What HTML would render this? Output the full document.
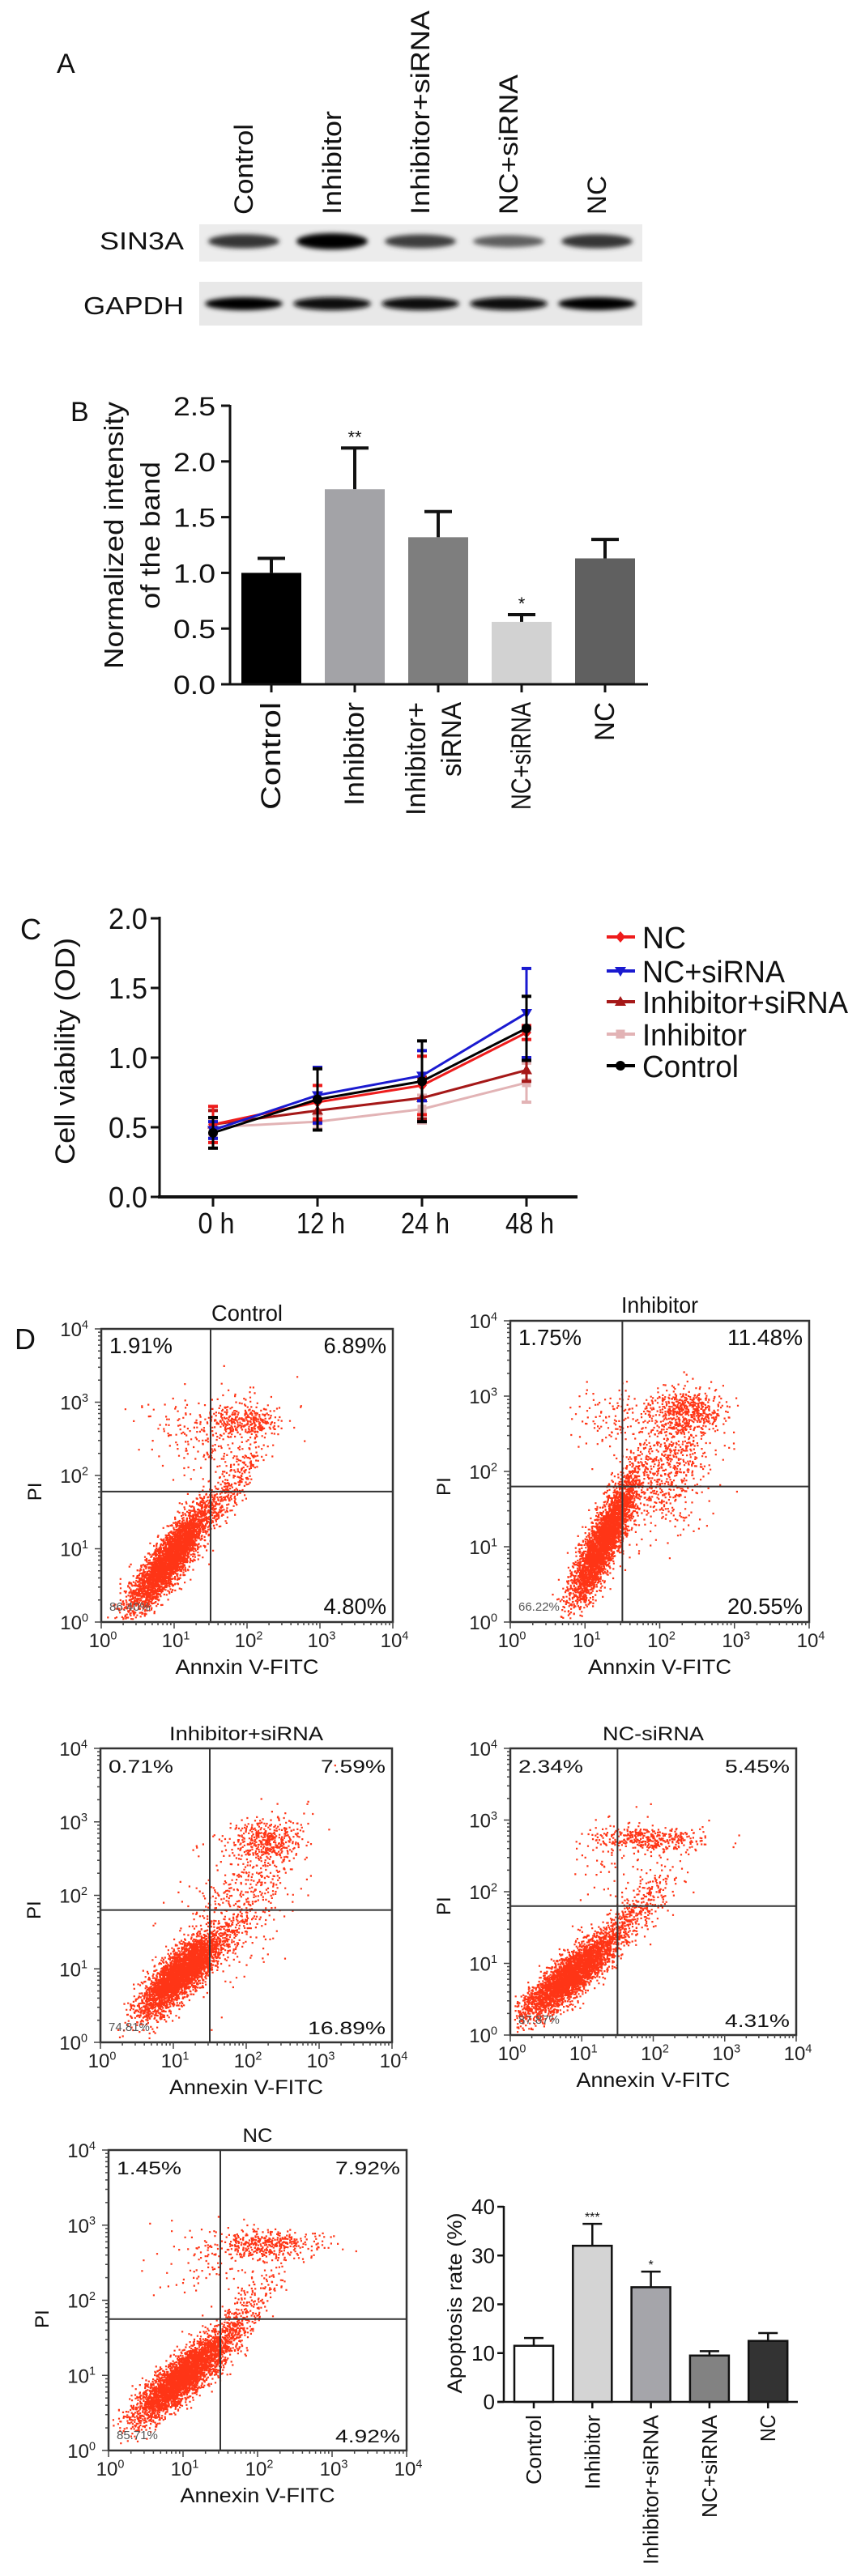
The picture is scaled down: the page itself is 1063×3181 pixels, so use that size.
<!DOCTYPE html>
<html>
<head>
<meta charset="utf-8">
<style>
html,body{margin:0;padding:0;background:#fff;}
svg{display:block;font-family:"Liberation Sans",Arial,sans-serif;}
</style>
</head>
<body>
<svg id="fig" xmlns="http://www.w3.org/2000/svg" width="1063" height="3181" viewBox="0 0 1063 3181">
<defs>
<filter id="blur" x="-20%" y="-100%" width="140%" height="300%"><feGaussianBlur stdDeviation="3"/></filter>
</defs>
<rect x="0" y="0" width="1063" height="3181" fill="#fff"/>
<g id="panelA"></g>
<g id="panelB"></g>
<g id="panelC"></g>
<g id="panelD"></g>
</svg>
<script>
// ---------- data ----------
const laneLabels = ['Control','Inhibitor','Inhibitor+siRNA','NC+siRNA','NC'];
const sin3aIntensity = [0.72, 1.0, 0.68, 0.5, 0.72];
const gapdhIntensity = [0.95, 0.9, 0.88, 0.9, 0.95];

const bCats = ['Control','Inhibitor','Inhibitor+|siRNA','NC+siRNA','NC'];
const bVals = [1.0, 1.75, 1.32, 0.56, 1.13];
const bErr = [0.13, 0.37, 0.23, 0.065, 0.17];
const bTicks = [0, 0.5, 1.0, 1.5, 2.0, 2.5];
const bStars = ['', '**', '', '*', ''];

const cTimes = ['0 h','12 h','24 h','48 h'];
const cTicks = [0, 0.5, 1.0, 1.5, 2.0];
const cNames = ['NC','NC+siRNA','Inhibitor+siRNA','Inhibitor','Control'];
const cNC = [0.52, 0.68, 0.80, 1.18];
const cNCErr = [0.13, 0.12, 0.21, 0.05];
const cNCsi = [0.48, 0.73, 0.87, 1.32];
const cNCsiErr = [0.06, 0.2, 0.18, 0.32];
const cInhSi = [0.52, 0.62, 0.71, 0.91];
const cInhSiErr = [0.1, 0.08, 0.15, 0.08];
const cInh = [0.50, 0.54, 0.63, 0.82];
const cInhErr = [0.05, 0.05, 0.1, 0.14];
const cCtrl = [0.46, 0.70, 0.83, 1.21];
const cCtrlErr = [0.11, 0.22, 0.29, 0.23];

const dCats = ['Control','Inhibitor','Inhibitor+siRNA','NC+siRNA','NC'];
const dVals = [11.5, 32, 23.5, 9.5, 12.5];
const dErr = [1.6, 4.5, 3.2, 0.9, 1.6];
const dTicks = [0, 10, 20, 30, 40];
const dStars = ['', '***', '*', '', ''];

const flowTitles = ['Control','Inhibitor','Inhibitor+siRNA','NC-siRNA','NC'];
const flowUL = ['1.91%','1.75%','0.71%','2.34%','1.45%'];
const flowUR = ['6.89%','11.48%','7.59%','5.45%','7.92%'];
const flowLL = ['86.40%','66.22%','74.81%','87.87%','85.71%'];
const flowLR = ['4.80%','20.55%','16.89%','4.31%','4.92%'];
const flowXLabel = ['Annxin V-FITC','Annxin V-FITC','Annexin V-FITC','Annexin V-FITC','Annexin V-FITC'];
const gateX = [1.5, 1.5, 1.5, 1.5, 1.5];
const gateY = [1.78, 1.8, 1.8, 1.8, 1.75];
const cl0 = [[0.95,0.9,0.3,0.38,0.88,3600],[1.95,2.75,0.3,0.12,0,320],[1.5,2.6,0.45,0.3,0,220],[1.8,1.9,0.2,0.3,0.8,220]];
const cl1 = [[1.25,1.1,0.22,0.42,0.85,3600],[2.35,2.8,0.25,0.15,0,500],[2.1,2.1,0.3,0.45,0.3,700],[1.4,2.7,0.3,0.25,0,120]];
const cl2 = [[1.1,0.95,0.28,0.28,0.8,3600],[2.25,2.75,0.25,0.15,0,420],[1.9,1.9,0.4,0.5,0.5,500]];
const cl3 = [[0.85,0.85,0.33,0.3,0.85,3600],[1.9,2.75,0.4,0.08,0,380],[1.75,1.7,0.3,0.3,0.8,320],[1.5,2.5,0.4,0.3,0,80]];
const cl4 = [[1.0,1.0,0.33,0.3,0.85,3600],[2.1,2.75,0.35,0.1,0,420],[1.8,1.8,0.25,0.3,0.8,260],[1.4,2.5,0.4,0.3,0,100]];
const flowClusters = [cl0, cl1, cl2, cl3, cl4];

// label display lengths (style, px)
const laneLen = [112, 128, 252, 173, 48];
const bLabLen = [133, 128, 0, 133, 48];
const legLen = [54, 176, 254, 129, 119];
const dLabLen = [86, 92, 185, 127, 33];
const titleLen = [88, 95, 190, 125, 37];
const xTitleLen = [177, 177, 190, 190, 191];

// ---------- helpers ----------
const NS = 'http://www.w3.org/2000/svg';
function mk(parent, tag, attrs, name, inter) {
  const el = document.createElementNS(NS, tag);
  for (const k in attrs) el.setAttribute(k, attrs[k]);
  
  
  parent.appendChild(el);
  return el;
}
function txt(parent, x, y, s, size, name, opt) {
  opt = opt || {};
  const a = {x: x, y: y, 'font-size': size, fill: opt.fill || '#111'};
  if (opt.anchor) a['text-anchor'] = opt.anchor;
  if (opt.len) { a.textLength = opt.len; a.lengthAdjust = 'spacingAndGlyphs'; }
  if (opt.rot) a.transform = 'rotate(-90 ' + x + ' ' + y + ')';
  if (opt.weight) a['font-weight'] = opt.weight;
  const t = mk(parent, 'text', a, name, false);
  t.textContent = s;
  return t;
}
function line(parent, x1, y1, x2, y2, w, name, col) {
  return mk(parent, 'line', {x1: x1, y1: y1, x2: x2, y2: y2, stroke: col || '#111', 'stroke-width': w}, name, false);
}
function pow10(parent, x, y, e, size, name, anchor) {
  const t = mk(parent, 'text', {x: x, y: y, 'font-size': size, fill: '#222', 'text-anchor': anchor || 'middle'}, name, false);
  t.textContent = '10';
  const s = document.createElementNS(NS, 'tspan');
  s.setAttribute('dy', -size * 0.4);
  s.setAttribute('font-size', size * 0.6);
  s.textContent = String(e);
  t.appendChild(s);
  return t;
}

// ---------- Panel A ----------
(function () {
  const g = document.getElementById('panelA');
  txt(g, 70, 90, 'A', 34, 'panel-label-a');
  const laneX = (i) => 301 + i * 109;
  laneLabels.forEach((l, i) => {
    txt(g, laneX(i) + 11, 265, l, 32, 'lane-label', {rot: true, len: laneLen[i]});
  });
  txt(g, 227, 308, 'SIN3A', 31, 'sin3a-label', {anchor: 'end', len: 104});
  txt(g, 227, 388, 'GAPDH', 31, 'gapdh-label', {anchor: 'end', len: 124});
  mk(g, 'rect', {x: 246, y: 277, width: 547, height: 46, fill: '#ececec'}, 'sin3a-blot-strip', false);
  mk(g, 'rect', {x: 246, y: 348, width: 547, height: 54, fill: '#e8e8e8'}, 'gapdh-blot-strip', false);
  sin3aIntensity.forEach((v, i) => {
    const c = Math.round(190 - v * 190);
    mk(g, 'ellipse', {cx: laneX(i), cy: 298, rx: 44, ry: 5 + v * 5, fill: 'rgb(' + c + ',' + c + ',' + c + ')', filter: 'url(#blur)'}, 'sin3a-band', false);
  });
  gapdhIntensity.forEach((v, i) => {
    const c = Math.max(0, Math.round(190 - v * 200));
    mk(g, 'ellipse', {cx: laneX(i), cy: 375, rx: 48, ry: 8, fill: 'rgb(' + c + ',' + c + ',' + c + ')', filter: 'url(#blur)'}, 'gapdh-band', false);
  });
})();

// ---------- Panel B ----------
(function () {
  const g = document.getElementById('panelB');
  const yB = (v) => 845 - v * 137.6;
  const xB = (i) => 335 + i * 103;
  const cols = ['#000000', '#a3a3a7', '#7e7e7e', '#d2d2d2', '#606060'];
  txt(g, 87, 520, 'B', 34, 'panel-label-b');
  txt(g, 152, 661, 'Normalized intensity', 33, 'y-axis-title', {rot: true, anchor: 'middle', len: 330});
  txt(g, 197, 661, 'of the band', 33, 'y-axis-title-line2', {rot: true, anchor: 'middle', len: 182});
  bTicks.forEach((t) => {
    line(g, 273, yB(t), 284, yB(t), 3, 'y-tick');
    txt(g, 266, yB(t) + 12, t.toFixed(1), 32, 'y-tick-label', {anchor: 'end', len: 52});
  });
  bVals.forEach((v, i) => {
    const x = xB(i);
    line(g, x, yB(v), x, yB(v + bErr[i]), 4, 'error-bar');
    line(g, x - 17, yB(v + bErr[i]), x + 17, yB(v + bErr[i]), 4, 'error-cap');
    mk(g, 'rect', {x: x - 37, y: yB(v), width: 74, height: yB(0) - yB(v), fill: cols[i]}, 'bar-' + i, false);
    if (bStars[i]) txt(g, x, yB(v + bErr[i]) - 6, bStars[i], 22, 'significance-star', {anchor: 'middle'});
    line(g, x, 845, x, 855, 3, 'x-tick');
    const parts = bCats[i].split('|');
    if (parts.length === 1) {
      txt(g, x + 11, 867, parts[0], 34, 'x-tick-label', {rot: true, anchor: 'end', len: bLabLen[i]});
    } else {
      txt(g, x - 16, 867, parts[0], 34, 'x-tick-label', {rot: true, anchor: 'end', len: 140});
      txt(g, x + 28, 867, parts[1], 34, 'x-tick-label', {rot: true, anchor: 'end', len: 92});
    }
  });
  line(g, 284, 500, 284, 846.5, 3, 'y-axis');
  line(g, 274, 845, 800, 845, 3, 'x-axis');
})();

// ---------- Panel C ----------
(function () {
  const g = document.getElementById('panelC');
  const yC = (v) => 1478 - v * 172;
  const xC = (i) => 263 + i * 129;
  txt(g, 25, 1160, 'C', 36, 'panel-label-c');
  txt(g, 92, 1298, 'Cell viability (OD)', 34, 'y-axis-title', {rot: true, anchor: 'middle', len: 280});
  cTicks.forEach((t) => {
    line(g, 186, yC(t), 197, yC(t), 3, 'y-tick');
    txt(g, 182, yC(t) + 13, t.toFixed(1), 36, 'y-tick-label', {anchor: 'end', len: 48});
  });
  cTimes.forEach((t, i) => {
    line(g, xC(i), 1478, xC(i), 1490, 3, 'x-tick');
    txt(g, xC(i) + 4, 1523, t, 36, 'x-tick-label', {anchor: 'middle', len: t.length * 15});
  });
  line(g, 197, 1132, 197, 1479.5, 3, 'y-axis');
  line(g, 195, 1478, 713, 1478, 4, 'x-axis');
  const series = [
    [cInh, cInhErr, '#e2b3b5', 'square'],
    [cInhSi, cInhSiErr, '#a51818', 'up'],
    [cNC, cNCErr, '#ee1c1c', 'diamond'],
    [cNCsi, cNCsiErr, '#1a1ad0', 'down'],
    [cCtrl, cCtrlErr, '#000000', 'circle']
  ];
  function marker(parent, x, y, type, col, name) {
    if (type === 'circle') return mk(parent, 'circle', {cx: x, cy: y, r: 6, fill: col}, name, false);
    if (type === 'square') return mk(parent, 'rect', {x: x - 5.5, y: y - 5.5, width: 11, height: 11, fill: col}, name, false);
    let pts;
    if (type === 'up') pts = [x, y - 7, x + 7, y + 5, x - 7, y + 5];
    else if (type === 'down') pts = [x, y + 7, x + 7, y - 5, x - 7, y - 5];
    else pts = [x, y - 7, x + 6, y, x, y + 7, x - 6, y];
    return mk(parent, 'polygon', {points: pts.join(' '), fill: col}, name, false);
  }
  series.forEach((s) => {
    const [vals, errs, col, type] = s;
    const sg = mk(g, 'g', {}, 'series-' + type, false);
    vals.forEach((v, i) => {
      line(sg, xC(i), yC(v - errs[i]), xC(i), yC(v + errs[i]), 3, 'error-bar', col);
      line(sg, xC(i) - 6, yC(v + errs[i]), xC(i) + 6, yC(v + errs[i]), 4, 'error-cap', col);
      line(sg, xC(i) - 6, yC(v - errs[i]), xC(i) + 6, yC(v - errs[i]), 4, 'error-cap', col);
    });
    const d = vals.map((v, i) => (i ? 'L' : 'M') + xC(i) + ' ' + yC(v)).join(' ');
    mk(sg, 'path', {d: d, fill: 'none', stroke: col, 'stroke-width': 3}, 'series-line', false);
    vals.forEach((v, i) => marker(sg, xC(i), yC(v), type, col, 'data-point'));
  });
  const legCols = ['#ee1c1c', '#1a1ad0', '#a51818', '#e2b3b5', '#000000'];
  const legTypes = ['diamond', 'down', 'up', 'square', 'circle'];
  const legY = [1157, 1199, 1237, 1277, 1316];
  cNames.forEach((n, i) => {
    const lg = mk(g, 'g', {}, 'legend-entry', false);
    line(lg, 749, legY[i], 784, legY[i], 4, 'legend-line', legCols[i]);
    marker(lg, 766, legY[i], legTypes[i], legCols[i], 'legend-marker');
    txt(lg, 793, legY[i] + 14, n, 38, 'legend-label', {len: legLen[i]});
  });
})();

// ---------- Panel D ----------
function rng(seed) {
  return function () {
    seed |= 0; seed = seed + 0x6D2B79F5 | 0;
    let t = Math.imul(seed ^ seed >>> 15, 1 | seed);
    t = t + Math.imul(t ^ t >>> 7, 61 | t) ^ t;
    return ((t ^ t >>> 14) >>> 0) / 4294967296;
  };
}
(function () {
  const g = document.getElementById('panelD');
  txt(g, 18, 1666, 'D', 36, 'panel-label-d');
  const frames = [
    [125, 1641, 485, 2003, true],
    [630, 1631, 999, 2003, true],
    [124, 2159, 484, 2522, false],
    [630, 2159, 983, 2513, false],
    [134, 2655, 502, 3026, false]
  ];
  frames.forEach((f, k) => {
    const [x0, y0, x1, y1, cond] = f;
    const pg = mk(g, 'g', {}, 'flow-plot-' + flowTitles[k].toLowerCase().replace(/[^a-z]+/g, '-'), false);
    const sx = (d) => x0 + (x1 - x0) * d / 4;
    const sy = (d) => y1 - (y1 - y0) * d / 4;
    const r = rng(k * 977 + 13);
    const gauss = () => { let u = 0, v = 0; while (!u) u = r(); v = r(); return Math.sqrt(-2 * Math.log(u)) * Math.cos(2 * Math.PI * v); };
    let d = '';
    flowClusters[k].forEach((c) => {
      const [cx, cy, ssx, ssy, rho, n] = c;
      for (let i = 0; i < n; i++) {
        const a = gauss(), b = gauss();
        const px = cx + ssx * a;
        const py = cy + ssy * (rho * a + Math.sqrt(1 - rho * rho) * b);
        if (px < 0.05 || px > 3.95 || py < 0.05 || py > 3.95) continue;
        d += 'M' + sx(px).toFixed(1) + ' ' + sy(py).toFixed(1) + 'h2.2v2.2h-2.2z';
      }
    });
    mk(pg, 'path', {d: d, fill: '#ff2a0a', 'fill-opacity': 0.95}, 'scatter-points', false);
    mk(pg, 'rect', {x: x0, y: y0, width: x1 - x0, height: y1 - y0, fill: 'none', stroke: '#333', 'stroke-width': 2.5}, 'plot-frame', false);
    line(pg, sx(gateX[k]), y0, sx(gateX[k]), y1, 2, 'quadrant-vertical-gate', '#333');
    line(pg, x0, sy(gateY[k]), x1, sy(gateY[k]), 2, 'quadrant-horizontal-gate', '#333');
    for (let dec = 0; dec < 4; dec++) {
      for (let m = 1; m <= 9; m++) {
        const lv = dec + Math.log10(m);
        const len = m === 1 ? 8 : 4;
        line(pg, x0 - len, sy(lv), x0, sy(lv), 1.5, 'y-minor-tick', '#444');
        line(pg, sx(lv), y1, sx(lv), y1 + len, 1.5, 'x-minor-tick', '#444');
      }
    }
    line(pg, x0 - 8, y0, x0, y0, 1.5, 'y-tick', '#444');
    line(pg, x1, y1, x1, y1 + 8, 1.5, 'x-tick', '#444');
    const fs = 24;
    for (let e = 0; e <= 4; e++) {
      pow10(pg, x0 - 16, sy(e) + 9, e, fs, 'y-tick-label', 'end');
      pow10(pg, sx(e) + 2, y1 + 31, e, fs, 'x-tick-label', 'middle');
    }
    txt(pg, (x0 + x1) / 2, y1 + 64, flowXLabel[k], 25, 'x-axis-title', {anchor: 'middle', len: xTitleLen[k]});
    txt(pg, x0 - 74, sy(gateY[k]), 'PI', 24, 'y-axis-title', {rot: true, anchor: 'middle'});
    txt(pg, (x0 + x1) / 2, y0 - 10, flowTitles[k], cond ? 28 : 24, 'plot-title', {anchor: 'middle', len: titleLen[k]});
    const pfs = cond ? 28 : 22;
    txt(pg, x0 + 10, y0 + 30, flowUL[k], pfs, 'upper-left-percent', {len: cond ? 78 : 80});
    txt(pg, x1 - 8, y0 + 30, flowUR[k], pfs, 'upper-right-percent', {anchor: 'end', len: flowUR[k].length * (cond ? 15.5 : 16)});
    txt(pg, x0 + 10, y1 - 14, flowLL[k], 15, 'lower-left-percent', {fill: '#555'});
    txt(pg, x1 - 8, y1 - 10, flowLR[k], pfs, 'lower-right-percent', {anchor: 'end', len: flowLR[k].length * (cond ? 15.5 : 16)});
  });

  const bg = mk(g, 'g', {}, 'apoptosis-bar-chart', false);
  const yD = (v) => 2966 - v * 6.025;
  const xD = (i) => 659 + i * 72.3;
  const cols = ['#ffffff', '#d4d4d4', '#a5a5aa', '#828282', '#333333'];
  dTicks.forEach((t) => {
    line(bg, 614, yD(t), 622, yD(t), 2.5, 'y-tick');
    txt(bg, 611, yD(t) + 9, String(t), 26, 'y-tick-label', {anchor: 'end'});
  });
  txt(bg, 570, 2844, 'Apoptosis rate (%)', 25, 'y-axis-title', {rot: true, anchor: 'middle', len: 223});
  dVals.forEach((v, i) => {
    const x = xD(i);
    line(bg, x, yD(v), x, yD(v + dErr[i]), 2.5, 'error-bar');
    line(bg, x - 12, yD(v + dErr[i]), x + 12, yD(v + dErr[i]), 2.5, 'error-cap');
    mk(bg, 'rect', {x: x - 24, y: yD(v), width: 48, height: yD(0) - yD(v), fill: cols[i], stroke: '#111', 'stroke-width': 2.5}, 'bar-' + i, false);
    if (dStars[i]) txt(bg, x, yD(v + dErr[i]) - 3, dStars[i], 16, 'significance-star', {anchor: 'middle'});
    line(bg, x, 2966, x, 2974, 2.5, 'x-tick');
    txt(bg, x + 9, 2982, dCats[i], 26, 'x-tick-label', {rot: true, anchor: 'end', len: dLabLen[i]});
  });
  line(bg, 622, 2724, 622, 2967, 2.5, 'y-axis');
  line(bg, 614, 2966, 985, 2966, 2.5, 'x-axis');
})();
</script>
</body>
</html>
